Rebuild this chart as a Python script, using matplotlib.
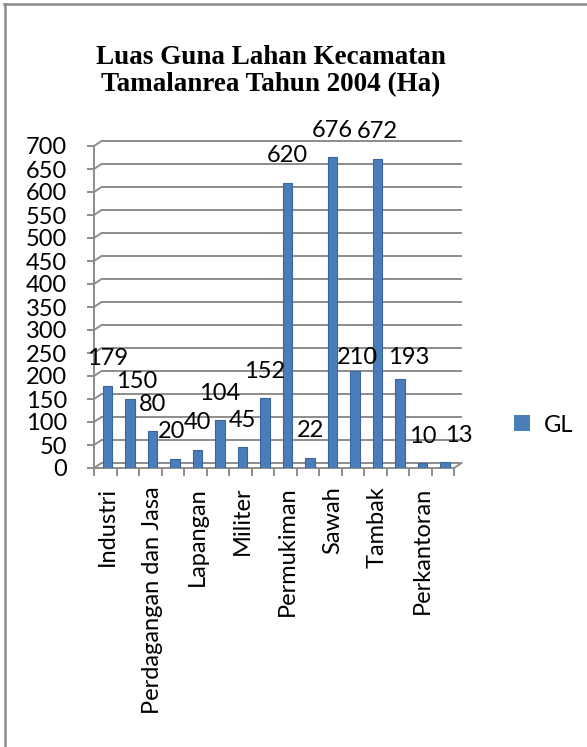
import matplotlib.pyplot as plt
from matplotlib.lines import Line2D
from matplotlib.patches import Patch
import numpy as np

# luas guna lahan (Ha), 16 kelas; only every other class name gets printed on the axis
values = [179, 150, 80, 20, 40, 104, 45, 152, 620, 22, 676, 210, 672, 193, 10, 13]
shown_labels = ["Industri", "Perdagangan dan Jasa", "Lapangan", "Militer",
                "Permukiman", "Sawah", "Tambak", "Perkantoran"]
series_name = "GL"
title = "Luas Guna Lahan Kecamatan\nTamalanrea Tahun 2004 (Ha)"

W, H = 587, 747
bar_color = "#4a7ebb"
edge_color = "#3867a0"
grid_color = "#8c8c8c"
num_font = "Lato"
fs = 17

fig = plt.figure(figsize=(W / 100, H / 100), dpi=100)
ax = fig.add_axes([94 / W, (H - 468) / H, 360 / W, 322 / H])
n = len(values)
ax.set_xlim(0, n)
ax.set_ylim(0, 700)
for s in ax.spines.values():
    s.set_visible(False)

# pseudo 3d depth of the back wall (in data units)
ddx = 7.5 / 22.5
ddy = 5 / (322 / 700)

yticks = np.arange(0, 701, 50)
for v in yticks:
    ax.plot([ddx, n + ddx], [v + ddy, v + ddy], color=grid_color, lw=1.4,
            clip_on=False, zorder=1, solid_capstyle="butt")
    ax.plot([0, ddx], [v, v + ddy], color=grid_color, lw=1.4,
            clip_on=False, zorder=1)
# floor front edge, right edge and front axis
ax.plot([0, n], [0, 0], color=grid_color, lw=1.4, clip_on=False, zorder=1)
ax.plot([n, n + ddx], [0, ddy], color=grid_color, lw=1.4, clip_on=False, zorder=1)
ax.plot([0, 0], [0, 700], color=grid_color, lw=1.4, clip_on=False, zorder=1)

x = np.arange(n) + 0.6
bars = ax.bar(x, values, width=0.42, color=bar_color, edgecolor=edge_color,
              linewidth=0.8, zorder=3)

# data labels sit above the bars; a few were pushed aside (pixels)
nudge = {1: (6.5, 17), 3: (-3, 27), 11: (2.5, 14), 13: (8.5, 22), 15: (13.5, 27)}
for i, (b, v) in enumerate(zip(bars, values)):
    dx, dy = nudge.get(i, (0, 27))
    ax.annotate(str(v), (b.get_x() + b.get_width() / 2, v),
                xytext=(dx * 0.72, dy * 0.72), textcoords="offset points",
                ha="center", va="center", fontsize=fs, family=num_font,
                zorder=4, annotation_clip=False)

ax.set_yticks(yticks)
ax.set_yticklabels([str(v) for v in yticks], fontsize=fs, family=num_font)
ax.tick_params(axis="y", length=5, width=1.4, color=grid_color, pad=14.4)

ax.set_xticks(x[::2])
ax.set_xticklabels(shown_labels, rotation=90, fontsize=fs, family=num_font,
                   va="top")
ax.set_xticks(np.arange(0, n + 1), minor=True)
ax.tick_params(axis="x", which="major", length=0, pad=13.5)
ax.tick_params(axis="x", which="minor", length=6, width=1.4, color=grid_color)

fig.text(271 / W, (H - 71) / H, title, ha="center", va="center",
         fontsize=19.5, fontweight="bold", family="Liberation Serif",
         linespacing=1.15)

fig.legend(handles=[Patch(facecolor=bar_color, label=series_name)],
           loc="center left", bbox_to_anchor=(493 / W, (H - 425) / H),
           frameon=False, prop={"family": num_font, "size": fs},
           handlelength=0.65, handleheight=0.65, handletextpad=0.6)

# outer chart frame (only left and top edges fall inside the image)
fig.add_artist(Line2D([5 / W, 5 / W], [0, 1 - 4 / H], color="#8a8a8a", lw=1.8))
fig.add_artist(Line2D([4 / W, 1], [1 - 4 / H, 1 - 4 / H], color="#8a8a8a", lw=1.8))

fig.savefig("out.png", dpi=100)
